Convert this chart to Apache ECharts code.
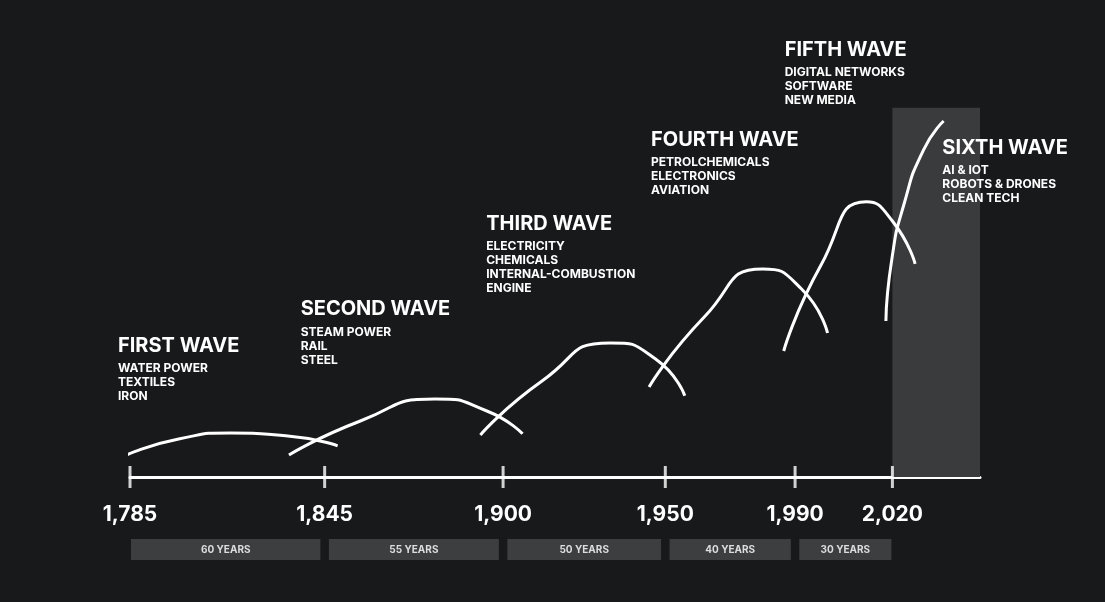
<!DOCTYPE html>
<html>
<head>
<meta charset="utf-8">
<script src="https://cdn.jsdelivr.net/npm/echarts@6/dist/echarts.min.js"></script>
<style>
  html, body { margin: 0; background: #18191b; overflow: hidden; }
  #main { width: 1105px; height: 602px; }
</style>
</head>
<body>
<div id="main"></div>
<script>
// years on the x axis, height above the axis line on y (0..100)
var tickYears = [1785, 1845, 1900, 1950, 1990, 2020];
var wave1 = [[1784, 5.5], [1800, 9.5], [1816, 11], [1833, 10.3], [1849, 7.8]];
var wave2 = [[1834, 5.5], [1856, 14], [1879, 19.5], [1895, 16.5], [1906, 10.8]];
var wave3 = [[1893, 10.5], [1912, 24], [1933, 33.5], [1947, 29.5], [1956, 20.3]];
var wave4 = [[1945, 22.5], [1962, 40], [1980, 52], [1992, 47], [2000, 36]];
var wave5 = [[1986.5, 31.5], [1998, 53], [2012, 68.8], [2020, 64], [2027, 53.3]];
var wave6 = [[2018, 39], [2019.8, 54.3], [2023.5, 68], [2029.6, 81.8], [2035.8, 89]];
var periods = [[1785, 1844, '60 YEARS'], [1846, 1899, '55 YEARS'], [1901, 1949, '50 YEARS'],
               [1951, 1989, '40 YEARS'], [1991, 2020, '30 YEARS']];
var waveTitles = ['FIRST WAVE', 'SECOND WAVE', 'THIRD WAVE', 'FOURTH WAVE', 'FIFTH WAVE', 'SIXTH WAVE'];
var waveItems = [
  ['WATER POWER', 'TEXTILES', 'IRON'],
  ['STEAM POWER', 'RAIL', 'STEEL'],
  ['ELECTRICITY', 'CHEMICALS', 'INTERNAL-COMBUSTION', 'ENGINE'],
  ['PETROLCHEMICALS', 'ELECTRONICS', 'AVIATION'],
  ['DIGITAL NETWORKS', 'SOFTWARE', 'NEW MEDIA'],
  ['AI & IOT', 'ROBOTS & DRONES', 'CLEAN TECH']
];
// label anchor: [year, height]
var labelAt = [[1781.3, 32.3], [1837.6, 41.5], [1894.8, 62.8], [1945.6, 83.8], [1986.8, 106.3], [2035.4, 81.8]];

var FONT = 'Inter, "DejaVu Sans", sans-serif';
var chart = echarts.init(document.getElementById('main'));

function waveSeries(d) {
  return { type: 'line', data: d, smooth: 0.6, symbol: 'none',
    lineStyle: { color: '#ffffff', width: 3 }, z: 5 };
}

chart.setOption({
  backgroundColor: '#18191b',
  animation: false,
  grid: { left: 130, right: 125, top: 77, bottom: 125 },
  xAxis: {
    type: 'value', min: 1785, max: 2047,
    splitLine: { show: false },
    axisLine: { lineStyle: { color: '#ffffff', width: 3 } },
    axisTick: { show: false },
    axisLabel: {
      customValues: tickYears, margin: 27, color: '#ffffff',
      fontSize: 21, fontWeight: 'bold', fontFamily: FONT
    }
  },
  yAxis: { type: 'value', min: 0, max: 100, show: false },
  series: [
    {
      type: 'scatter', data: tickYears.map(function (y) { return [y, 0]; }),
      symbol: 'rect', symbolSize: [3, 22], itemStyle: { color: '#ffffff' }, z: 6,
      markArea: {
        silent: true,
        itemStyle: { color: '#3a3b3d' },
        data: [[{ coord: [2020, 0] }, { coord: [2047, 92.3] }]]
      }
    },
    waveSeries(wave1), waveSeries(wave2), waveSeries(wave3),
    waveSeries(wave4), waveSeries(wave5), waveSeries(wave6)
  ]
});

var g = [];
waveTitles.forEach(function (t, i) {
  var p = chart.convertToPixel({ gridIndex: 0 }, labelAt[i]);
  g.push({ type: 'text', left: p[0], top: p[1] - 12, z: 10,
    style: { text: t, fill: '#ffffff', font: 'bold 20px ' + FONT } });
  g.push({ type: 'text', left: p[0], top: p[1] + 14, z: 10,
    style: { text: waveItems[i].join('\n'), fill: '#ffffff', font: 'bold 12px ' + FONT, lineHeight: 14 } });
});
periods.forEach(function (p) {
  var a = chart.convertToPixel({ gridIndex: 0 }, [p[0], 0]);
  var b = chart.convertToPixel({ gridIndex: 0 }, [p[1], 0]);
  g.push({ type: 'rect', shape: { x: a[0] + 1, y: 539, width: b[0] - a[0] - 2, height: 21 },
    style: { fill: '#3d3e40' } });
  g.push({ type: 'text', x: (a[0] + b[0]) / 2, y: 549.5,
    style: { text: p[2], fill: '#dddddd', font: 'bold 10px ' + FONT, align: 'center', verticalAlign: 'middle' } });
});
chart.setOption({ graphic: g });
</script>
</body>
</html>
